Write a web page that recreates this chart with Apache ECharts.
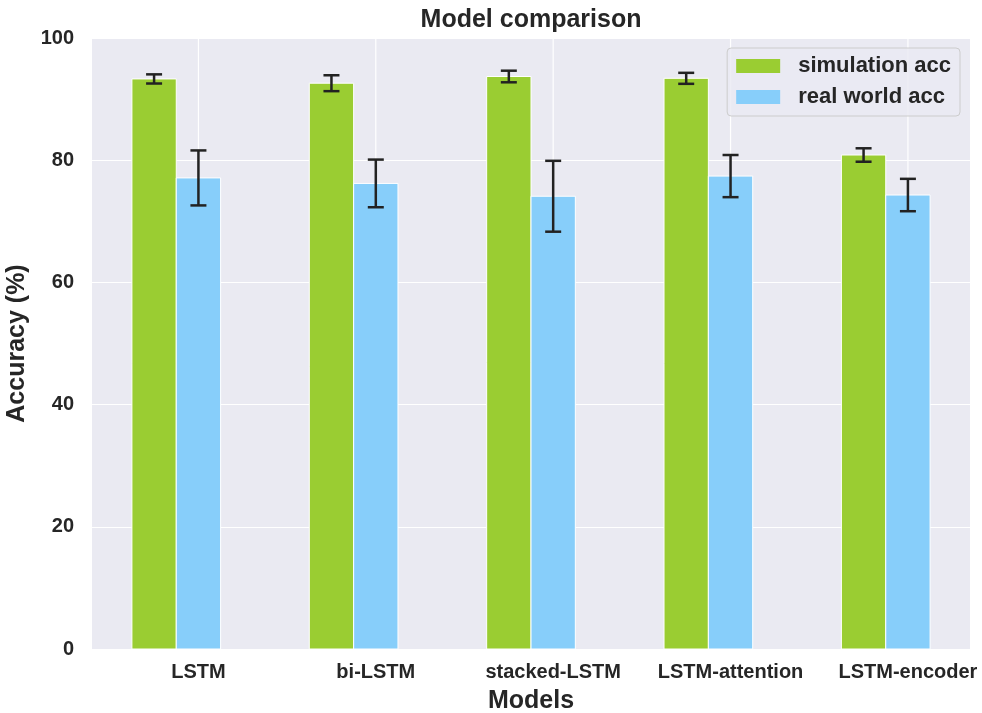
<!DOCTYPE html>
<html>
<head>
<meta charset="utf-8">
<script src="https://cdn.jsdelivr.net/npm/echarts@6/dist/echarts.min.js"></script>
<style>
  html, body { margin: 0; padding: 0; background: #ffffff; }
  #chart { width: 982px; height: 713px; }
</style>
</head>
<body>
<div id="chart"></div>
<script>
// Model names along the x axis
const categories = ['LSTM', 'bi-LSTM', 'stacked-LSTM', 'LSTM-attention', 'LSTM-encoder'];
// Mean accuracy (%) and standard deviation per model
const simAcc = [93.3, 92.6, 93.7, 93.4, 80.85];
const simErr = [0.75, 1.3, 0.95, 0.9, 1.1];
const realAcc = [77.1, 76.2, 74.1, 77.4, 74.3];
const realErr = [4.5, 3.9, 5.8, 3.45, 2.65];
// Y axis tick values
const yTicks = [0, 20, 40, 60, 80, 100];

const FONT = '"Liberation Sans", Arial, Helvetica, sans-serif';
const TEXT = '#262626';
const GREEN = '#9ACD32';
const BLUE = '#87CEFA';
const BAR_W = 0.25;

function barRender(offset, color) {
  return function (params, api) {
    const idx = api.value(0);
    const val = api.value(1);
    const w = api.size([BAR_W, 0])[0];
    const top = api.coord([idx + offset, val]);
    const base = api.coord([idx + offset, 0]);
    return {
      type: 'rect',
      shape: { x: top[0] - w / 2, y: top[1], width: w, height: base[1] - top[1] },
      style: { fill: color, stroke: '#ffffff', lineWidth: 1 }
    };
  };
}

function errRender(offset) {
  return function (params, api) {
    const idx = api.value(0);
    const val = api.value(1);
    const err = api.value(2);
    const hi = api.coord([idx + offset, val + err]);
    const lo = api.coord([idx + offset, val - err]);
    const cap = 8;
    const st = { stroke: '#222222', lineWidth: 2.5 };
    return {
      type: 'group',
      children: [
        { type: 'line', shape: { x1: hi[0], y1: hi[1], x2: lo[0], y2: lo[1] }, style: st },
        { type: 'line', shape: { x1: hi[0] - cap, y1: hi[1], x2: hi[0] + cap, y2: hi[1] }, style: st },
        { type: 'line', shape: { x1: lo[0] - cap, y1: lo[1], x2: lo[0] + cap, y2: lo[1] }, style: st }
      ]
    };
  };
}

const simData = categories.map((c, i) => [i, simAcc[i], simErr[i]]);
const realData = categories.map((c, i) => [i, realAcc[i], realErr[i]]);
const tickIdx = categories.map((c, i) => i);

const chart = echarts.init(document.getElementById('chart'), null, { renderer: 'canvas' });
chart.setOption({
  backgroundColor: '#ffffff',
  animation: false,
  textStyle: { fontFamily: FONT },
  title: {
    text: 'Model comparison',
    left: 526,
    textAlign: 'center',
    top: 3,
    textStyle: { fontFamily: FONT, fontWeight: 'bold', fontSize: 25, color: TEXT }
  },
  legend: {
    orient: 'vertical',
    right: 22,
    top: 48,
    padding: [7, 9, 8, 9],
    itemGap: 9,
    itemWidth: 44,
    itemHeight: 14,
    icon: 'rect',
    backgroundColor: 'rgba(234,234,242,0.8)',
    borderColor: '#cccccc',
    borderWidth: 1,
    borderRadius: 4,
    textStyle: { fontFamily: FONT, fontWeight: 'bold', fontSize: 22, color: TEXT, padding: [0, 0, 0, 13] },
    data: [
      { name: 'simulation acc', itemStyle: { color: GREEN } },
      { name: 'real world acc', itemStyle: { color: BLUE } }
    ]
  },
  grid: {
    left: 92, right: 12, top: 38, bottom: 64,
    outerBoundsMode: 'none',
    containLabel: false,
    show: true, backgroundColor: '#EAEAF2', borderWidth: 0
  },
  xAxis: {
    type: 'value',
    min: -0.6,
    max: 4.35,
    name: 'Models',
    nameLocation: 'middle',
    nameGap: 40,
    nameTextStyle: { fontFamily: FONT, fontWeight: 'bold', fontSize: 25, color: TEXT },
    axisLine: { show: false },
    axisTick: { show: false },
    splitLine: { show: false },
    axisLabel: {
      customValues: tickIdx,
      formatter: v => categories[Math.round(v)] || '',
      margin: 13,
      fontFamily: FONT, fontWeight: 'bold', fontSize: 20, color: TEXT
    }
  },
  yAxis: {
    type: 'value',
    min: 0,
    max: 100,
    interval: 20,
    name: 'Accuracy (%)',
    nameLocation: 'middle',
    nameGap: 55,
    nameTextStyle: { fontFamily: FONT, fontWeight: 'bold', fontSize: 25, color: TEXT },
    axisLine: { show: false },
    axisTick: { show: false },
    splitLine: { show: true, lineStyle: { color: '#ffffff', width: 1.2 } },
    axisLabel: {
      margin: 18,
      formatter: v => (yTicks.indexOf(v) >= 0 ? String(v) : ''),
      fontFamily: FONT, fontWeight: 'bold', fontSize: 20, color: TEXT
    }
  },
  series: [
    {
      // vertical grid lines at each model position
      type: 'custom',
      name: 'xgrid',
      silent: true,
      z: 1,
      data: tickIdx.map(i => [i]),
      renderItem: function (params, api) {
        const x = api.value(0);
        const a = api.coord([x, 0]);
        const b = api.coord([x, 100]);
        return { type: 'line', shape: { x1: a[0], y1: a[1], x2: b[0], y2: b[1] }, style: { stroke: '#ffffff', lineWidth: 1.2 } };
      }
    },
    {
      type: 'custom',
      name: 'simulation acc',
      itemStyle: { color: GREEN },
      z: 3,
      data: simData,
      encode: { x: 0, y: 1 },
      renderItem: barRender(-BAR_W, GREEN)
    },
    {
      type: 'custom',
      name: 'real world acc',
      itemStyle: { color: BLUE },
      z: 3,
      data: realData,
      encode: { x: 0, y: 1 },
      renderItem: barRender(0, BLUE)
    },
    {
      type: 'custom',
      name: 'simErr',
      silent: true,
      z: 4,
      data: simData,
      encode: { x: 0, y: 1 },
      renderItem: errRender(-BAR_W)
    },
    {
      type: 'custom',
      name: 'realErr',
      silent: true,
      z: 4,
      data: realData,
      encode: { x: 0, y: 1 },
      renderItem: errRender(0)
    }
  ]
});
</script>
</body>
</html>
